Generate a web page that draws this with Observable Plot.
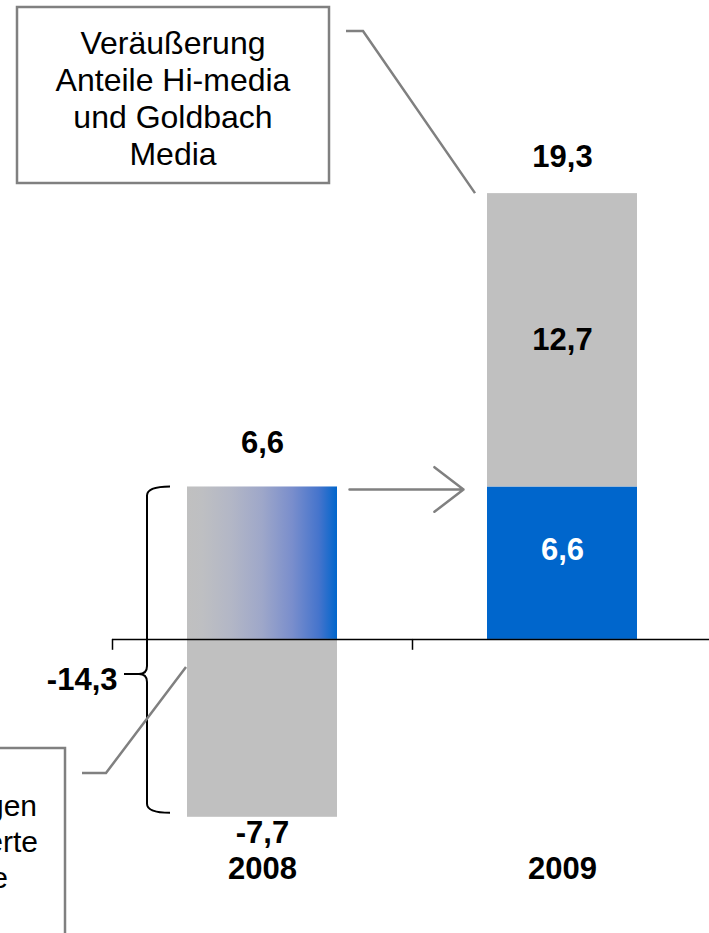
<!DOCTYPE html>
<html><head><meta charset="utf-8">
<script src="https://cdn.jsdelivr.net/npm/d3@7"></script>
<script src="https://cdn.jsdelivr.net/npm/@observablehq/plot@0.6"></script>
<style>html,body{margin:0;padding:0;background:#fff;overflow:hidden}</style>
</head><body><div id="chart"></div>
<script>
// ---- data ----
const years = ["2008", "2009"];
const operating = [6.6, 6.6];      // operatives Ergebnis
const special = [-7.7, 12.7];      // Sondereffekte
const noteTop = ["Veräußerung", "Anteile Hi-media", "und Goldbach", "Media"];
const noteBottom = ["Abschreibungen", "Marktwerte", "Anteile"];

const fmt = v => v.toFixed(1).replace(".", ",");
const total2009 = operating[1] + special[1];
const swing2008 = special[0] - operating[0];

const GRAY = "#c0c0c0", BLUE = "#0066cc", LINE = "#808080";
const FONT = "'Liberation Sans', Arial, Helvetica, sans-serif";
const B = {fontWeight: "bold", fontSize: 31};

const plot = Plot.plot({
  width: 709, height: 933,
  marginTop: 0, marginBottom: 0, marginLeft: 112, marginRight: 0,
  style: {fontFamily: FONT, background: "#fff", color: "#000"},
  x: {type: "band", domain: years, range: [112, 712], paddingInner: 0.5, paddingOuter: 0.25, axis: null},
  y: {domain: [-12.73, 27.66], axis: null},
  marks: [
    Plot.barY([0], {x: i => years[i], y1: 0, y2: i => operating[i], fill: "url(#grad2008)"}),
    Plot.barY([1], {x: i => years[i], y1: 0, y2: i => operating[i], fill: BLUE}),
    Plot.barY([0, 1], {
      x: i => years[i],
      y1: i => special[i] < 0 ? 0 : operating[i],
      y2: i => special[i] < 0 ? special[i] : operating[i] + special[i],
      fill: GRAY
    }),
    Plot.ruleY([0], {stroke: "#000", strokeWidth: 1.5}),
    Plot.ruleX(years, {x: d => d, dx: -150, y1: 0, y2: -0.47, stroke: "#000", strokeWidth: 1.5}),
    Plot.arrow([0], {
      x1: i => years[i], x2: i => years[i + 1],
      y1: i => operating[i], y2: i => operating[i + 1],
      insetStart: 87, insetEnd: 99, dy: 2.5,
      stroke: LINE, strokeWidth: 2.5, headLength: 22, headAngle: 75
    }),
    // labels
    Plot.text([0], {x: i => years[i], y: i => operating[i], text: i => fmt(operating[i]), dy: -44, ...B}),
    Plot.text([1], {x: i => years[i], y: i => operating[i] + special[i], text: () => fmt(total2009), dy: -37, ...B}),
    Plot.text([1], {x: i => years[i], y: i => operating[i] + special[i] / 2, text: i => fmt(special[i]), ...B}),
    Plot.text([1], {x: i => years[i], y: i => operating[i] / 2, text: i => fmt(operating[i]), dy: -13, fill: "#fff", ...B}),
    Plot.text([0], {x: i => years[i], y: i => special[i], text: i => fmt(special[i]), dy: 16, ...B}),
    Plot.text([0], {x: i => years[i], y: 0, text: () => fmt(swing2008), textAnchor: "end", dx: -145, dy: 41, ...B}),
    Plot.text(years, {x: d => d, frameAnchor: "bottom", lineAnchor: "middle", dy: -64, ...B})
  ]
});

document.getElementById("chart").appendChild(plot);

// ---- annotations drawn from the scales ----
const svg = d3.select(plot);
const sx = plot.scale("x"), sy = plot.scale("y");
const x08 = sx.apply("2008"), x09 = sx.apply("2009");

const defs = svg.insert("defs", ":first-child");
const gr = defs.append("linearGradient").attr("id", "grad2008")
  .attr("x1", "0").attr("x2", "1").attr("y1", "0").attr("y2", "0");
[[0, GRAY], [0.1, "#bebfc2"], [0.3, "#b2b6c6"], [0.5, "#9ea7c9"], [0.7, "#7a8ecc"], [0.88, "#4574cc"], [1, BLUE]]
  .forEach(([o, c]) => gr.append("stop").attr("offset", o).attr("stop-color", c));

const ann = svg.append("g").attr("font-family", FONT);

// curly bracket for 2008
const top08 = sy.apply(operating[0]), bot08 = sy.apply(special[0]) - 4;
const bx = x08 - 40, hx = x08 - 17, tipY = sy.apply(0) + 35, tipX = x08 - 63;
ann.append("path")
  .attr("d", `M${hx},${top08} Q${bx},${top08} ${bx},${top08 + 9} L${bx},${tipY - 8} Q${bx},${tipY} ${bx - 8},${tipY} L${tipX},${tipY} M${bx - 8},${tipY} Q${bx},${tipY} ${bx},${tipY + 8} L${bx},${bot08 - 9} Q${bx},${bot08} ${hx},${bot08}`)
  .attr("fill", "none").attr("stroke", "#000").attr("stroke-width", 2);

// top note box
ann.append("rect").attr("x", 17).attr("y", 7).attr("width", 312).attr("height", 176)
  .attr("fill", "#fff").attr("stroke", LINE).attr("stroke-width", 2.5);
noteTop.forEach((t, i) => ann.append("text").attr("x", 173).attr("y", 54 + i * 37)
  .attr("text-anchor", "middle").attr("font-size", 32).text(t));
ann.append("polyline")
  .attr("points", `346,31 363,31 ${x09 - 12},${sy.apply(total2009)}`)
  .attr("fill", "none").attr("stroke", LINE).attr("stroke-width", 2.5);

// bottom note box (runs off the left edge, as in the original)
ann.append("rect").attr("x", -300).attr("y", 748).attr("width", 365).attr("height", 300)
  .attr("fill", "#fff").attr("stroke", LINE).attr("stroke-width", 2.5);
const endX = [37, 38, 8];
noteBottom.forEach((t, i) => ann.append("text").attr("x", endX[i]).attr("y", 816 + i * 36)
  .attr("text-anchor", "end").attr("font-size", 30).text(t));
ann.append("polyline")
  .attr("points", `82,773 106,773 ${x08 - 1},${sy.apply(0) + 28}`)
  .attr("fill", "none").attr("stroke", LINE).attr("stroke-width", 2.5);
</script>
</body></html>
